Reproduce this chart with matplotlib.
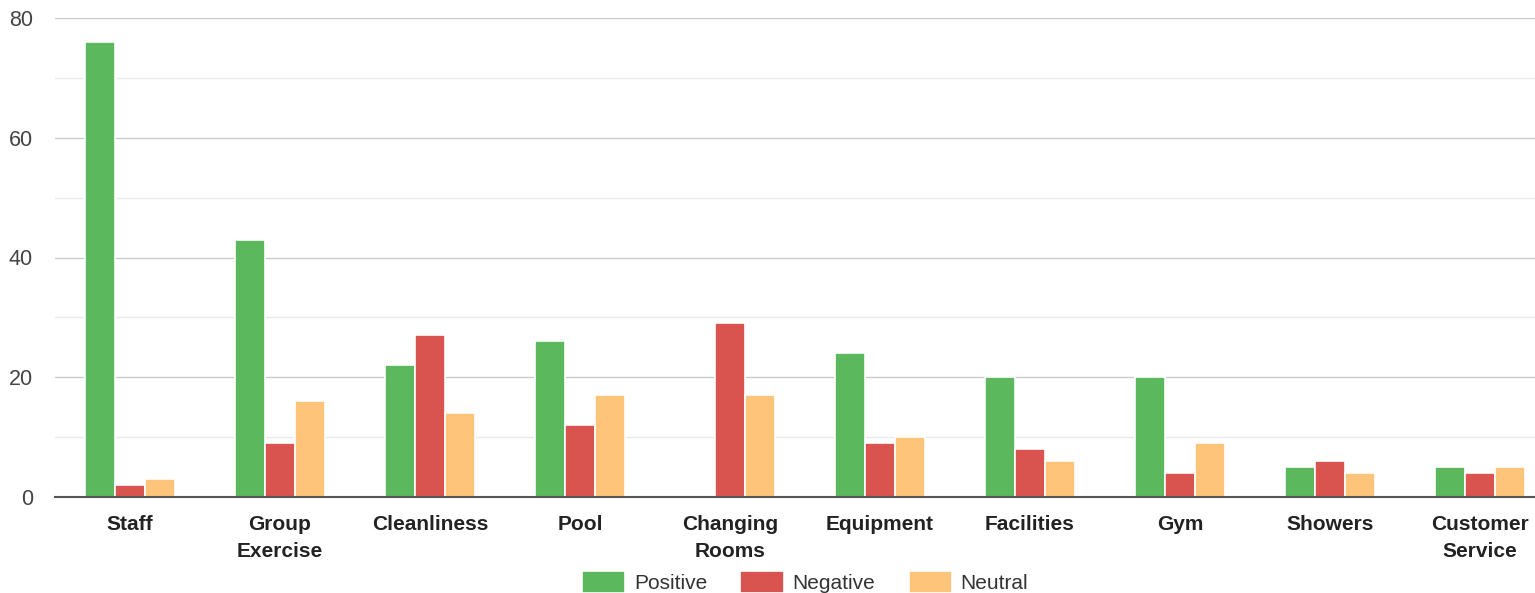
import numpy as np
import matplotlib.pyplot as plt

plt.rcParams['font.family'] = ['Liberation Sans', 'DejaVu Sans']

categories = ["Staff", "Group\nExercise", "Cleanliness", "Pool", "Changing\nRooms",
              "Equipment", "Facilities", "Gym", "Showers", "Customer\nService"]
positive = [76, 43, 22, 26, 0, 24, 20, 20, 5, 5]
negative = [2, 9, 27, 12, 29, 9, 8, 4, 6, 4]
neutral = [3, 16, 14, 17, 17, 10, 6, 9, 4, 5]

series = [("Positive", positive, "#5cb85c"),
          ("Negative", negative, "#d9534f"),
          ("Neutral", neutral, "#fec57a")]

fig = plt.figure(figsize=(15.35, 5.93), dpi=100)
ax = fig.add_axes([55/1535, 1 - 497/593, 1480/1535, 479/593])

x = np.arange(len(categories))
w = 0.2
for i, (name, vals, col) in enumerate(series):
    ax.bar(x + (i - 1) * w, vals, width=w, color=col, edgecolor="white",
           linewidth=1.2, label=name, zorder=3)

ax.set_xlim(-0.5, -0.5 + 1480/150)
ax.set_ylim(0, 80)
ax.set_yticks([0, 20, 40, 60, 80])
ax.set_yticks([10, 30, 50, 70], minor=True)
ax.grid(axis="y", which="major", color="#cccccc", linewidth=1, zorder=0)
ax.grid(axis="y", which="minor", color="#ebebeb", linewidth=1, zorder=0)
ax.tick_params(axis="y", which="both", length=0, labelsize=15.5, labelcolor="#444444", pad=16)
ax.set_xticks(x)
ax.set_xticklabels(categories, fontsize=15, fontweight="bold", color="#222222", linespacing=1.5)
ax.tick_params(axis="x", length=0, pad=13)
for s in ["top", "right", "left"]:
    ax.spines[s].set_visible(False)
ax.spines["bottom"].set_color("#555555")
ax.spines["bottom"].set_linewidth(1.5)
ax.spines["bottom"].set_zorder(4)

ax.legend(loc="center", bbox_to_anchor=(805/1535, 1 - 582/593), bbox_transform=fig.transFigure,
          ncol=3, frameon=False, fontsize=15, handlelength=2.1, handleheight=1.25,
          columnspacing=1.6, handletextpad=0.4, labelcolor="#333333")

fig.savefig("out.png", dpi=100)
